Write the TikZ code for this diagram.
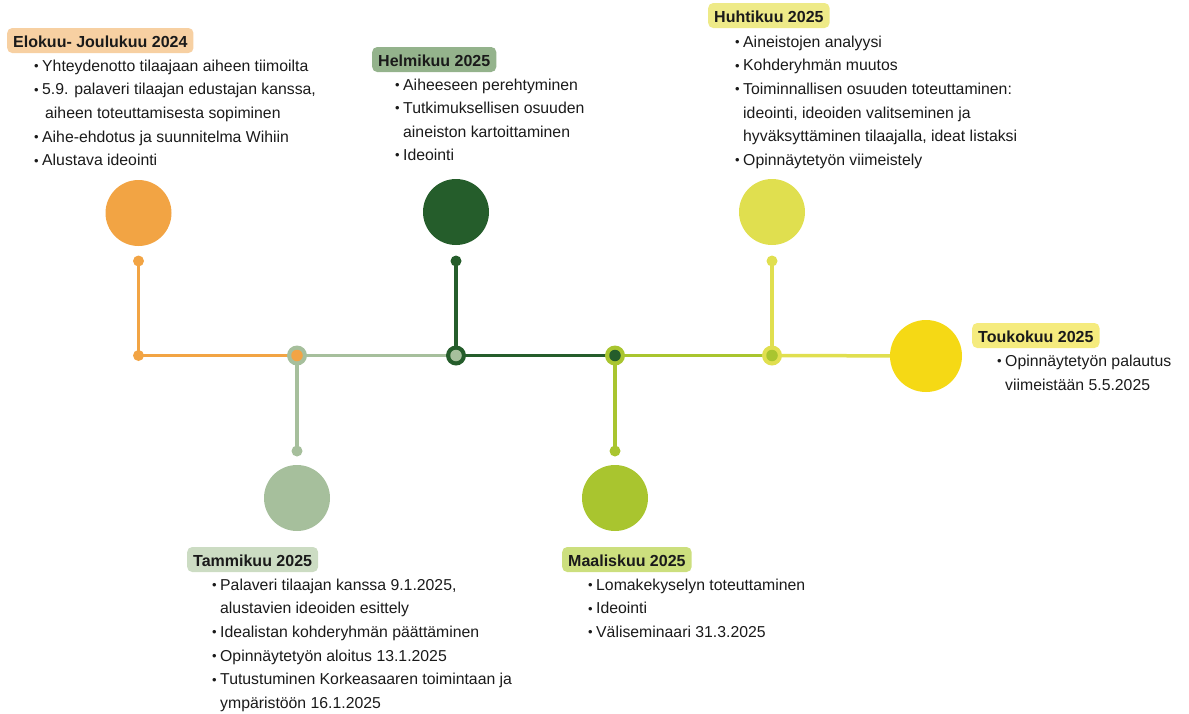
\documentclass[tikz,border=0pt]{standalone}
\usepackage{fontspec}
\setmainfont{Liberation Sans}
\usetikzlibrary{backgrounds}
\definecolor{corange}{HTML}{F2A444}
\definecolor{csage}{HTML}{A6BF9C}
\definecolor{cdark}{HTML}{255D2B}
\definecolor{clime}{HTML}{A9C52F}
\definecolor{cylime}{HTML}{E0DF4F}
\definecolor{cyellow}{HTML}{F5D915}
\definecolor{hlorange}{HTML}{F7D0A2}
\definecolor{hlsage}{HTML}{94B38C}
\definecolor{hlylime}{HTML}{EEEA88}
\definecolor{hlyellow}{HTML}{F5EB7E}
\definecolor{hllsage}{HTML}{CCDCC3}
\definecolor{hllime}{HTML}{CCDF7E}
\definecolor{textc}{HTML}{1A1A1A}
\newcommand{\bul}{\makebox[8pt][l]{\raisebox{0.6pt}{\fontsize{13}{13}\selectfont •}}}
\begin{document}
\begin{tikzpicture}[x=1pt,y=-1pt,
  bigc/.style={circle,minimum size=66pt,inner sep=0pt,draw=none},
  dotc/.style={circle,minimum size=11pt,inner sep=0pt,draw=none},
  ringo/.style={circle,minimum size=20pt,inner sep=0pt,draw=none},
  ringi/.style={circle,minimum size=11.5pt,inner sep=0pt,draw=none},
  tl/.style={line width=3.5pt},
  txt/.style={anchor=base west,inner sep=0pt,text=textc,font=\fontsize{15.8}{19}\selectfont},
  head/.style={anchor=base west,inner xsep=6pt,inner ysep=5pt,text height=14pt,text depth=1pt,
    rounded corners=5pt,text=textc,font=\fontsize{16}{19}\selectfont\bfseries}]
\useasboundingbox (0,0) rectangle (1189,713);
% big circles
\node[bigc,fill=corange] (C1) at (138.5,213) {};
\node[bigc,fill=cdark] (C3) at (456,212) {};
\node[bigc,fill=cylime] (C5) at (772,212) {};
\node[bigc,fill=csage] (C2) at (297,498) {};
\node[bigc,fill=clime] (C4) at (615,498) {};
\node[circle,minimum size=72pt,inner sep=0pt,fill=cyellow] (C6) at (926,356) {};
% end dots
\node[dotc,fill=corange] (d1) at (138.5,261) {};
\node[dotc,fill=corange] (j0) at (138.5,355.5) {};
\node[dotc,fill=cdark] (d3) at (456,261) {};
\node[dotc,fill=cylime] (d5) at (772,261) {};
\node[dotc,fill=csage] (d2) at (297,451) {};
\node[dotc,fill=clime] (d4) at (615,451) {};
% junction rings
\node[ringo,fill=csage] (j1) at (297,355.5) {};
\node[ringi,fill=corange] (j1i) at (297,355.5) {};
\node[ringo,fill=cdark] (j2) at (456,355.5) {};
\node[ringi,fill=csage] (j2i) at (456,355.5) {};
\node[ringo,fill=clime] (j3) at (615,355.5) {};
\node[ringi,fill=cdark] (j3i) at (615,355.5) {};
\node[ringo,fill=cylime] (j4) at (772,355.5) {};
\node[ringi,fill=clime] (j4i) at (772,355.5) {};
\begin{scope}[on background layer]
\draw[tl,corange] (d1.center) -- (j0.center) -- (j1.center);
\draw[tl,csage] (j1.center) -- (j2.center);
\draw[tl,csage] (j1.center) -- (d2.center);
\draw[tl,cdark] (d3.center) -- (j2.center) -- (j3.center);
\draw[tl,clime] (j3.center) -- (j4.center);
\draw[tl,clime] (j3.center) -- (d4.center);
\draw[tl,cylime] (d5.center) -- (j4.center);
\draw[tl,cylime] (j4.center) -- (C6.center);
\end{scope}
% Elokuu
\node[head,fill=hlorange] (h1) at (7,47) {Elokuu- Joulukuu 2024};
\node[txt] (e1) at (34,71) {\bul Yhteydenotto tilaajaan aiheen tiimoilta};
\node[txt] (e2) at (34,94.7) {\bul 5.9. palaveri tilaajan edustajan kanssa,};
\node[txt] (e3) at (45,118.4) {aiheen toteuttamisesta sopiminen};
\node[txt] (e4) at (34,142) {\bul Aihe-ehdotus ja suunnitelma Wihiin};
\node[txt] (e5) at (34,165.7) {\bul Alustava ideointi};
% Helmikuu
\node[head,fill=hlsage] (h3) at (372,66) {Helmikuu 2025};
\node[txt] (f1) at (395,90) {\bul Aiheeseen perehtyminen};
\node[txt] (f2) at (395,113.5) {\bul Tutkimuksellisen osuuden};
\node[txt] (f3) at (403,137) {aineiston kartoittaminen};
\node[txt] (f4) at (395,160.5) {\bul Ideointi};
% Huhtikuu
\node[head,fill=hlylime] (h5) at (708,22) {Huhtikuu 2025};
\node[txt] (g1) at (735,47) {\bul Aineistojen analyysi};
\node[txt] (g2) at (735,70.7) {\bul Kohderyhmän muutos};
\node[txt] (g3) at (735,94.4) {\bul Toiminnallisen osuuden toteuttaminen:};
\node[txt] (g4) at (743,118) {ideointi, ideoiden valitseminen ja};
\node[txt] (g5) at (743,141.7) {hyväksyttäminen tilaajalla, ideat listaksi};
\node[txt] (g6) at (735,165.4) {\bul Opinnäytetyön viimeistely};
% Toukokuu
\node[head,fill=hlyellow] (h6) at (972,342) {Toukokuu 2025};
\node[txt] (k1) at (997,366) {\bul Opinnäytetyön palautus};
\node[txt] (k2) at (1005,390) {viimeistään 5.5.2025};
% Tammikuu
\node[head,fill=hllsage] (h2) at (187,566) {Tammikuu 2025};
\node[txt] (t1) at (212,590) {\bul Palaveri tilaajan kanssa 9.1.2025,};
\node[txt] (t2) at (220,613.7) {alustavien ideoiden esittely};
\node[txt] (t3) at (212,637.4) {\bul Idealistan kohderyhmän päättäminen};
\node[txt] (t4) at (212,661) {\bul Opinnäytetyön aloitus 13.1.2025};
\node[txt] (t5) at (212,684.7) {\bul Tutustuminen Korkeasaaren toimintaan ja};
\node[txt] (t6) at (220,708.4) {ympäristöön 16.1.2025};
% Maaliskuu
\node[head,fill=hllime] (h4) at (562,566) {Maaliskuu 2025};
\node[txt] (m1) at (588,590) {\bul Lomakekyselyn toteuttaminen};
\node[txt] (m2) at (588,613.7) {\bul Ideointi};
\node[txt] (m3) at (588,637.4) {\bul Väliseminaari 31.3.2025};
\end{tikzpicture}
\end{document}
